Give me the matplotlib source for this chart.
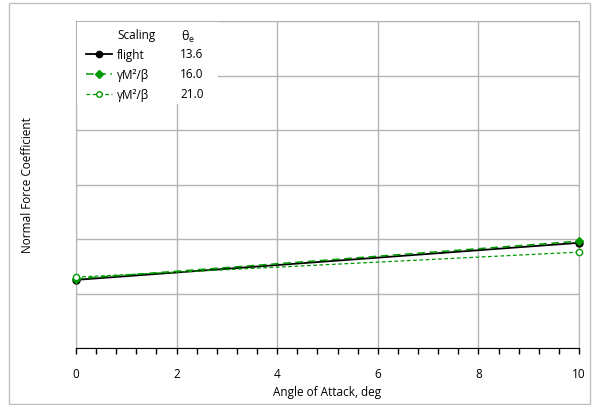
import matplotlib.pyplot as plt
from matplotlib.lines import Line2D
from matplotlib.patches import Rectangle
from matplotlib.ticker import MultipleLocator, NullFormatter

plt.rcParams["font.family"] = ["Open Sans", "DejaVu Sans"]

# Normal force coefficient vs angle of attack
alpha = [0, 10]
cn_flight = [0.125, 0.193]
cn_scaled_16 = [0.127, 0.196]
cn_scaled_21 = [0.130, 0.176]

scalings = ["flight", "γM²/β", "γM²/β"]
theta_e = ["13.6", "16.0", "21.0"]

GREEN = "#009900"
GRID = "#b3b3b3"

fig = plt.figure(figsize=(5.95, 4.06), dpi=100)
ax = fig.add_axes([76 / 595, 57 / 406, 503 / 595, 327 / 406])

styles = [
    dict(color="black", ls="-", lw=1.3, marker="o", ms=5, mfc="black"),
    dict(color=GREEN, ls=(0, (5, 3)), lw=1.1, marker="D", ms=4.5, mfc=GREEN),
    dict(color=GREEN, ls=(0, (3, 2)), lw=0.9, marker="o", ms=4.5, mfc="white"),
]
for vals, st in zip([cn_flight, cn_scaled_16, cn_scaled_21], styles):
    ax.plot(alpha, vals, clip_on=False, zorder=5, **st)

ax.set_xlim(0, 10)
ax.set_ylim(0, 0.6)
ax.xaxis.set_major_locator(MultipleLocator(2))
ax.xaxis.set_minor_locator(MultipleLocator(0.4))
ax.yaxis.set_major_locator(MultipleLocator(0.1))
ax.yaxis.set_major_formatter(NullFormatter())
ax.tick_params(axis="y", length=0)
ax.tick_params(axis="x", which="both", direction="out", length=4, width=1,
               pad=10, labelsize=8.5, color="black")
ax.grid(True, color=GRID, lw=1)
for side in ["left", "top", "right"]:
    ax.spines[side].set_color(GRID)
ax.spines["bottom"].set_color("black")
ax.spines["bottom"].set_zorder(6)

ax.set_xlabel("Angle of Attack, deg", fontsize=8.5, labelpad=3)
ax.set_ylabel("Normal Force Coefficient", fontsize=8.5, labelpad=27)

# Table-style legend with a white backing over the grid
def px(x, y):
    return (x - 76) / 503, (349 - y) / 327

x0, y0 = px(77, 105)
x1, y1 = px(218, 23)
ax.add_patch(Rectangle((x0, y0), x1 - x0, y1 - y0, transform=ax.transAxes,
                       facecolor="white", edgecolor="none", zorder=3))
hx, hy = px(117, 36)
ax.text(hx, hy, "Scaling", transform=ax.transAxes, fontsize=8.5,
        va="center", ha="left", zorder=7)
tx, ty = px(181, 37)
ax.text(tx, ty, r"$\mathregular{\theta_e}$", transform=ax.transAxes,
        fontsize=9, va="center", ha="left", zorder=7)
for i, (name, th, st) in enumerate(zip(scalings, theta_e, styles)):
    rowy = 55 + 20 * i
    lx0, ly = px(86, rowy)
    lx1, _ = px(112, rowy)
    ax.add_line(Line2D([lx0, lx1], [ly, ly], transform=ax.transAxes,
                       color=st["color"], ls=st["ls"], lw=st["lw"], zorder=7))
    mx, _ = px(99, rowy)
    ax.add_line(Line2D([mx], [ly], transform=ax.transAxes, color=st["color"],
                       marker=st["marker"], ms=st["ms"] - 0.5, mfc=st["mfc"],
                       ls="none", zorder=8))
    nx, _ = px(117, rowy)
    ax.text(nx, ly, name, transform=ax.transAxes, fontsize=8.5,
            va="center", ha="left", zorder=7)
    vx, _ = px(180, rowy)
    ax.text(vx, ly, th, transform=ax.transAxes, fontsize=8.5,
            va="center", ha="left", zorder=7)

# Outer chart border
fig.add_artist(Rectangle((8.5 / 595, 1.5 / 406), 581 / 595, 401 / 406,
                         transform=fig.transFigure, fill=False,
                         edgecolor="#bfbfbf", lw=1))

fig.savefig("out.png", dpi=100)
